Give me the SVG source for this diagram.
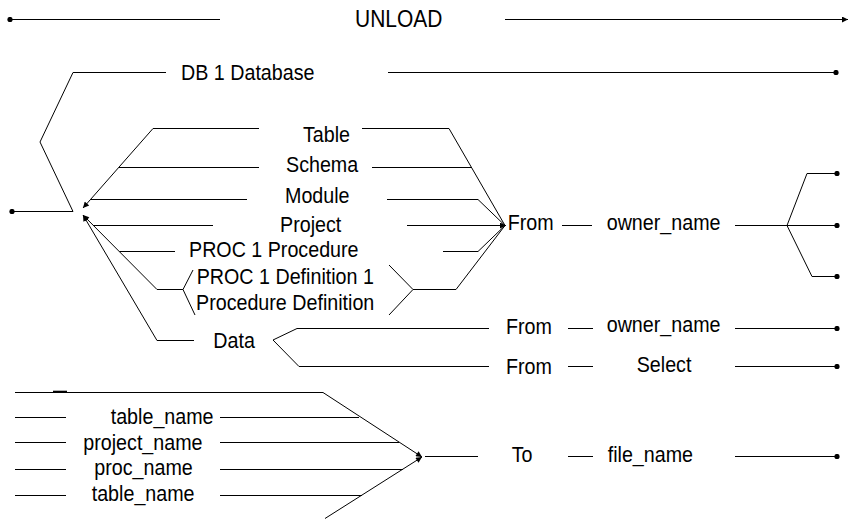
<svg xmlns="http://www.w3.org/2000/svg" width="856" height="520" viewBox="0 0 856 520">
<defs>
<marker id="arr" viewBox="0 0 10 10" refX="10" refY="5" markerWidth="8" markerHeight="6" orient="auto" markerUnits="userSpaceOnUse"><path d="M0,0 L10,5 L0,10 z" fill="#000"/></marker>
<marker id="dot" viewBox="0 0 6 6" refX="3" refY="3" markerWidth="6" markerHeight="6" markerUnits="userSpaceOnUse"><circle cx="3" cy="3" r="2.6" fill="#000"/></marker>
<style>
.c line, .c polyline { stroke: #000; stroke-width: 1; fill: none; }
.t { font-family: "Liberation Sans", Arial, sans-serif; font-size: 19.7px; fill: #000; }
.big { font-size: 21px; }
</style>
</defs>
<rect width="856" height="520" fill="#fff"/>
<g id="connectors" class="c">
<line x1="10" y1="19.5" x2="220" y2="19.5" marker-start="url(#dot)"/>
<line x1="505" y1="19.5" x2="848" y2="19.5" marker-end="url(#arr)"/>
<polyline points="166,72.5 73,72.5 40,142 73,211.5"/>
<line x1="388" y1="72.5" x2="836" y2="72.5" marker-end="url(#dot)"/>
<line x1="12" y1="211.5" x2="73" y2="211.5" marker-start="url(#dot)"/>
<polyline points="259,128.5 153,128.5 83,208" marker-end="url(#arr)"/>
<line x1="119" y1="167.5" x2="259" y2="167.5"/>
<line x1="91" y1="199.5" x2="247" y2="199.5"/>
<polyline points="183,289.5 157,289.5 83,215" marker-end="url(#arr)"/>
<line x1="93" y1="225.5" x2="213" y2="225.5"/>
<line x1="119.5" y1="251.5" x2="175" y2="251.5"/>
<polyline points="193,270 183,289.5 195,315"/>
<polyline points="194,340.5 157,340.5 83,215" marker-end="url(#arr)"/>
<polyline points="362,128.5 449,128.5 505,225.5"/>
<line x1="372" y1="167.5" x2="472" y2="167.5"/>
<polyline points="387,199.5 478,199.5 505,225.5"/>
<line x1="407" y1="225.5" x2="506" y2="225.5" marker-end="url(#arr)"/>
<polyline points="443,251.5 478,251.5 505,225.5"/>
<polyline points="389,265 413,289.5 389,315"/>
<polyline points="413,289.5 456,289.5 505,225.5"/>
<line x1="562" y1="225.5" x2="592" y2="225.5"/>
<line x1="735" y1="225.5" x2="837" y2="225.5" marker-end="url(#dot)"/>
<polyline points="837,173.5 807,173.5 787,225.5 812,276.5 837,276.5" marker-start="url(#dot)" marker-end="url(#dot)"/>
<polyline points="489,328.5 297,328.5 273,340 299,366.5 489,366.5"/>
<line x1="568" y1="328.5" x2="593" y2="328.5"/>
<line x1="568" y1="366.5" x2="593" y2="366.5"/>
<line x1="735" y1="328.5" x2="837" y2="328.5" marker-end="url(#dot)"/>
<line x1="735" y1="366.5" x2="837" y2="366.5" marker-end="url(#dot)"/>
<polyline points="15,392.5 323,392.5 422,457" marker-end="url(#arr)"/>
<line x1="53" y1="391.5" x2="67" y2="391.5" style="stroke-width:1.6"/>
<line x1="15" y1="417.5" x2="66" y2="417.5"/>
<line x1="220" y1="417.5" x2="359" y2="417.5"/>
<line x1="15" y1="442.5" x2="66" y2="442.5"/>
<line x1="220" y1="442.5" x2="399" y2="442.5"/>
<line x1="15" y1="469.5" x2="66" y2="469.5"/>
<line x1="220" y1="469.5" x2="403" y2="469.5"/>
<line x1="15" y1="495.5" x2="66" y2="495.5"/>
<line x1="220" y1="495.5" x2="362" y2="495.5"/>
<line x1="325" y1="518.5" x2="422" y2="457" marker-end="url(#arr)"/>
<line x1="425" y1="456.5" x2="478" y2="456.5"/>
<line x1="568" y1="456.5" x2="593" y2="456.5"/>
<line x1="735" y1="456.5" x2="837" y2="456.5" marker-end="url(#dot)"/>
</g>
<g id="n-unload"><text class="t big" transform="translate(355,26.7) scale(1,1.12)">UNLOAD</text></g>
<g id="n-db"><text class="t" transform="translate(181,80) scale(1,1.1)">DB 1 Database</text></g>
<g id="n-table"><text class="t" transform="translate(303,142) scale(1,1.1)">Table</text></g>
<g id="n-schema"><text class="t" transform="translate(286,172) scale(1,1.1)">Schema</text></g>
<g id="n-module"><text class="t" transform="translate(285,203) scale(1,1.1)">Module</text></g>
<g id="n-project"><text class="t" transform="translate(280,231.7) scale(1,1.1)">Project</text></g>
<g id="n-proc"><text class="t" transform="translate(189,256.7) scale(1,1.1)">PROC 1 Procedure</text></g>
<g id="n-procdef"><text class="t" transform="translate(196.7,284) scale(1,1.1)">PROC 1 Definition 1</text><text class="t" transform="translate(196,310) scale(1,1.1)">Procedure Definition</text></g>
<g id="n-data"><text class="t" transform="translate(213.3,348.3) scale(1,1.1)">Data</text></g>
<g id="n-from1"><text class="t" transform="translate(507.7,230) scale(1,1.1)">From</text></g>
<g id="n-owner1"><text class="t" transform="translate(606.7,230) scale(1,1.1)">owner_name</text></g>
<g id="n-from2"><text class="t" transform="translate(506,334.3) scale(1,1.1)">From</text></g>
<g id="n-owner2"><text class="t" transform="translate(606.7,331.7) scale(1,1.1)">owner_name</text></g>
<g id="n-from3"><text class="t" transform="translate(506,374) scale(1,1.1)">From</text></g>
<g id="n-select"><text class="t" transform="translate(636.7,371.7) scale(1,1.1)">Select</text></g>
<g id="n-table-name1"><text class="t" transform="translate(110.7,424.3) scale(1,1.1)">table_name</text></g>
<g id="n-project-name"><text class="t" transform="translate(83.3,450) scale(1,1.1)">project_name</text></g>
<g id="n-proc-name"><text class="t" transform="translate(94.3,475) scale(1,1.1)">proc_name</text></g>
<g id="n-table-name2"><text class="t" transform="translate(91.7,500.7) scale(1,1.1)">table_name</text></g>
<g id="n-to"><text class="t" transform="translate(511.7,462.3) scale(1,1.1)">To</text></g>
<g id="n-file"><text class="t" transform="translate(607.7,461.7) scale(1,1.1)">file_name</text></g>
</svg>
